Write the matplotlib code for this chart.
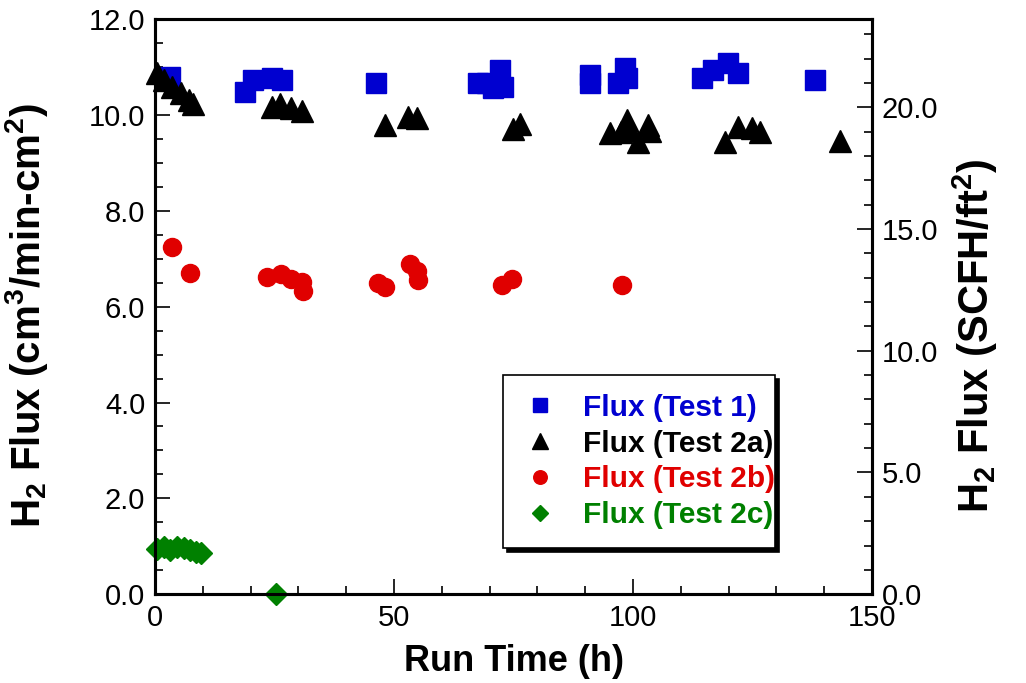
import numpy as np
import matplotlib.pyplot as plt
from matplotlib.ticker import MultipleLocator, FormatStrFormatter

plt.rcParams['font.family'] = ['Liberation Sans', 'DejaVu Sans']
plt.rcParams['mathtext.fontset'] = 'custom'
plt.rcParams['mathtext.rm'] = 'Liberation Sans'
plt.rcParams['mathtext.bf'] = 'Liberation Sans:bold'

# Test 1 flux (cm3/min-cm2) vs run time (h)
t1_time = [3.1, 18.8, 20.5, 24.5, 26.6, 46.2, 67.6, 69.5, 70.7, 72.2, 72.8,
           91.0, 91.0, 96.9, 98.3, 98.7, 114.4, 116.7, 119.9, 122.0, 138.0]
t1_flux = [10.79, 10.48, 10.73, 10.77, 10.73, 10.67, 10.67, 10.67, 10.56, 10.94, 10.58,
           10.83, 10.67, 10.67, 10.98, 10.77, 10.77, 10.94, 11.09, 10.88, 10.73]

# Test 2a
t2a_time = [0.5, 2.0, 3.6, 5.4, 7.2, 8.0, 24.5, 26.2, 28.5, 30.8, 48.1, 52.9, 54.8,
            74.9, 76.4, 95.2, 97.5, 98.7, 99.3, 101.0, 103.1, 103.5,
            119.2, 122.0, 124.9, 126.6, 143.3]
t2a_flux = [10.88, 10.73, 10.58, 10.46, 10.31, 10.22, 10.17, 10.22, 10.15, 10.08, 9.79, 9.96, 9.94,
            9.70, 9.82, 9.62, 9.64, 9.90, 9.68, 9.44, 9.79, 9.66,
            9.44, 9.75, 9.72, 9.64, 9.45]

# Test 2b
t2b_time = [3.6, 7.3, 23.5, 26.3, 28.5, 30.8, 31.0, 46.7, 48.1, 53.3, 54.8, 55.1,
            72.6, 74.7, 97.7]
t2b_flux = [7.25, 6.70, 6.62, 6.68, 6.58, 6.52, 6.32, 6.50, 6.40, 6.90, 6.75, 6.55,
            6.45, 6.58, 6.45]

# Test 2c
t2c_time = [0.5, 2.0, 3.2, 4.6, 6.0, 7.4, 8.6, 9.6, 25.3]
t2c_flux = [0.95, 0.98, 0.92, 0.99, 0.96, 0.93, 0.88, 0.85, 0.0]

# cm3/min-cm2 -> SCFH/ft2
conv = 60.0 / 28316.85 * 929.0304

fig = plt.figure(figsize=(10.26, 6.83), dpi=100)
ax = fig.add_axes([0.151, 0.130, 0.699, 0.842])

ax.plot(t1_time, t1_flux, 's', color='#0000d0', markersize=14, label='Flux (Test 1)', clip_on=False, zorder=3)
ax.plot(t2a_time, t2a_flux, '^', color='black', markersize=16, label='Flux (Test 2a)', clip_on=False, zorder=4)
ax.plot(t2b_time, t2b_flux, 'o', color='#e00000', markersize=13, label='Flux (Test 2b)', clip_on=False, zorder=3)
ax.plot(t2c_time, t2c_flux, 'D', color='#008000', markersize=11, label='Flux (Test 2c)', clip_on=False, zorder=3)

ax.set_xlim(0, 150)
ax.set_ylim(0, 12)
ax.xaxis.set_major_locator(MultipleLocator(50))
ax.xaxis.set_minor_locator(MultipleLocator(10))
ax.yaxis.set_major_locator(MultipleLocator(2))
ax.yaxis.set_minor_locator(MultipleLocator(0.5))
ax.yaxis.set_major_formatter(FormatStrFormatter('%.1f'))

ax2 = ax.twinx()
ax2.set_ylim(0, 12 * conv)
ax2.yaxis.set_major_locator(MultipleLocator(5))
ax2.yaxis.set_minor_locator(MultipleLocator(1))
ax2.yaxis.set_major_formatter(FormatStrFormatter('%.1f'))

for a in (ax, ax2):
    for s in a.spines.values():
        s.set_linewidth(2.2)
    a.tick_params(which='major', direction='in', length=11, width=1.2, labelsize=21, pad=7)
    a.tick_params(which='minor', direction='in', length=6, width=1.2)
ax.tick_params(top=False, which='both')

ax.set_xlabel('Run Time (h)', fontsize=26, fontweight='bold')
ax.set_ylabel(r'H$_\mathbf{2}$ Flux (cm$^\mathbf{3}$/min-cm$^\mathbf{2}$)', fontsize=29, fontweight='bold')
ax2.set_ylabel(r'H$_\mathbf{2}$ Flux (SCFH/ft$^\mathbf{2}$)', fontsize=30, fontweight='bold')
ax.xaxis.set_label_coords(0.5, -0.087)
ax.yaxis.set_label_coords(-0.146, 0.485)
ax2.yaxis.set_label_coords(1.11, 0.45)

leg = ax.legend(loc='lower left', bbox_to_anchor=(0.485, 0.08, 0.38, 0.318), mode='expand',
                prop={'weight': 'bold', 'size': 21.5}, fancybox=False, framealpha=1,
                edgecolor='black', shadow={'color': 'black', 'alpha': 1, 'ox': 3, 'oy': -3},
                handlelength=1.2, handletextpad=0.85, borderpad=0.64, labelspacing=0.26,
                markerscale=0.75, borderaxespad=0)
leg.get_frame().set_linewidth(1.2)
for txt, col in zip(leg.get_texts(), ['#0000d0', 'black', '#e00000', '#008000']):
    txt.set_color(col)

fig.savefig('out.png', dpi=100)
